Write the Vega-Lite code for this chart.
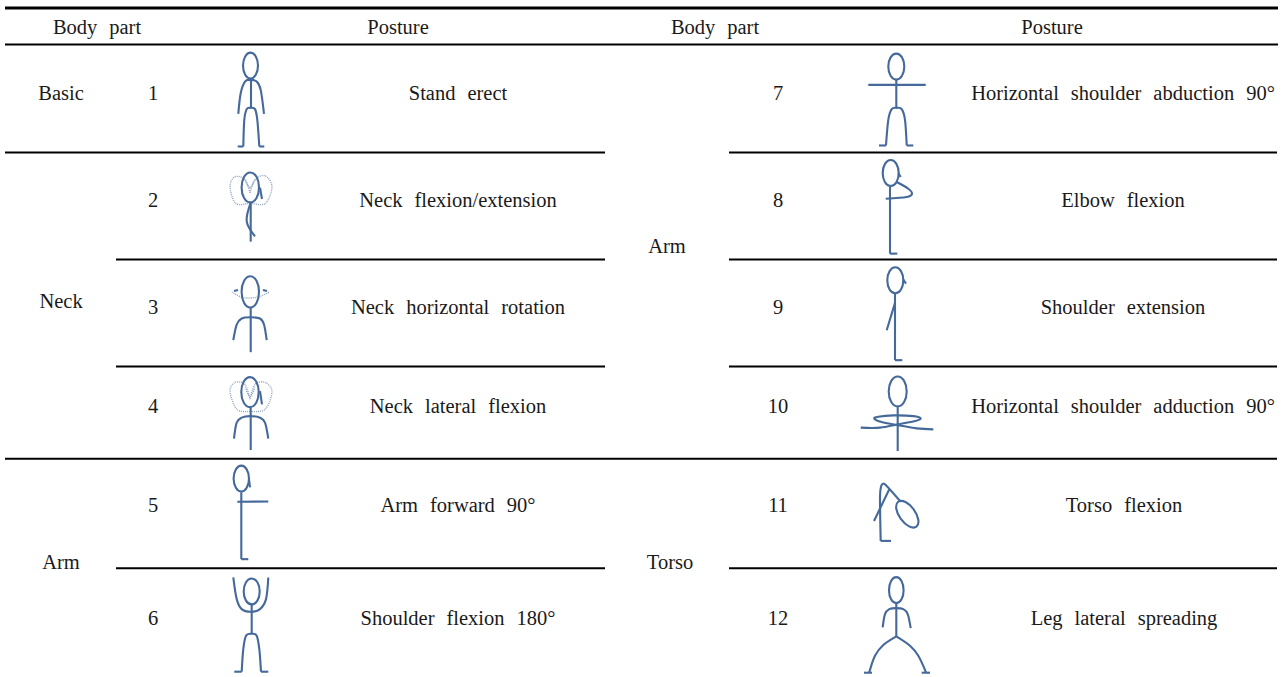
{"$schema":"https://vega.github.io/schema/vega-lite/v6.json","width":1287,"height":677,"autosize":{"type":"fit","contains":"padding"},"padding":0,"background":"white","config":{"view":{"stroke":null}},
"datasets":{"heavy":[{"a":5,"b":1278,"y":8}],
"mid":[{"a":5,"b":1278,"y":44.5}],
"thin":[{"a":5,"b":605,"y":152.8},{"a":729,"b":1277,"y":152.8},{"a":116,"b":605,"y":260},{"a":729,"b":1277,"y":260},{"a":116,"b":605,"y":367},{"a":729,"b":1277,"y":367},{"a":5,"b":1277,"y":459.5},{"a":116,"b":605,"y":569},{"a":729,"b":1277,"y":569}],
"labels":[{"x":97,"y":28,"t":"Body\u00a0\u00a0\u200apart"},{"x":398,"y":28,"t":"Posture"},{"x":715,"y":28,"t":"Body\u00a0\u00a0\u200apart"},{"x":1052,"y":28,"t":"Posture"},{"x":61,"y":94,"t":"Basic"},{"x":61,"y":302,"t":"Neck"},{"x":61,"y":564,"t":"Arm"},{"x":667,"y":247,"t":"Arm"},{"x":670,"y":564,"t":"Torso"},{"x":153,"y":94,"t":"1"},{"x":153,"y":201,"t":"2"},{"x":153,"y":308,"t":"3"},{"x":153,"y":408,"t":"4"},{"x":153,"y":507,"t":"5"},{"x":153,"y":620,"t":"6"},{"x":778,"y":94,"t":"7"},{"x":778,"y":201,"t":"8"},{"x":778,"y":308,"t":"9"},{"x":778,"y":408,"t":"10"},{"x":778,"y":507,"t":"11"},{"x":778,"y":620,"t":"12"},{"x":458,"y":94,"t":"Stand\u00a0\u00a0\u200aerect"},{"x":458,"y":201,"t":"Neck\u00a0\u00a0\u200aflexion/extension"},{"x":458,"y":308,"t":"Neck\u00a0\u00a0\u200ahorizontal\u00a0\u00a0\u200arotation"},{"x":458,"y":408,"t":"Neck\u00a0\u00a0\u200alateral\u00a0\u00a0\u200aflexion"},{"x":458,"y":507,"t":"Arm\u00a0\u00a0\u200aforward\u00a0\u00a0\u200a90°"},{"x":458,"y":620,"t":"Shoulder\u00a0\u00a0\u200aflexion\u00a0\u00a0\u200a180°"},{"x":1123,"y":94,"t":"Horizontal\u00a0\u00a0\u200ashoulder\u00a0\u00a0\u200aabduction\u00a0\u00a0\u200a90°"},{"x":1123,"y":201,"t":"Elbow\u00a0\u00a0\u200aflexion"},{"x":1123,"y":308,"t":"Shoulder\u00a0\u00a0\u200aextension"},{"x":1123,"y":408,"t":"Horizontal\u00a0\u00a0\u200ashoulder\u00a0\u00a0\u200aadduction\u00a0\u00a0\u200a90°"},{"x":1124,"y":507,"t":"Torso\u00a0\u00a0\u200aflexion"},{"x":1124,"y":620,"t":"Leg\u00a0\u00a0\u200alateral\u00a0\u00a0\u200aspreading"}],
"heads":[
{"p":"h1","o":1,"x":250.5,"y":52.7},{"p":"h1","o":2,"x":255.8,"y":56.5},{"p":"h1","o":3,"x":258,"y":65.7},{"p":"h1","o":4,"x":255.8,"y":74.9},{"p":"h1","o":5,"x":250.5,"y":78.7},{"p":"h1","o":6,"x":245.2,"y":74.9},{"p":"h1","o":7,"x":243,"y":65.7},{"p":"h1","o":8,"x":245.2,"y":56.5},
{"p":"h2","o":1,"x":250.3,"y":172.7},{"p":"h2","o":2,"x":256.5,"y":177.1},{"p":"h2","o":3,"x":259,"y":187.7},{"p":"h2","o":4,"x":256.5,"y":198.3},{"p":"h2","o":5,"x":250.3,"y":202.7},{"p":"h2","o":6,"x":244.1,"y":198.3},{"p":"h2","o":7,"x":241.6,"y":187.7},{"p":"h2","o":8,"x":244.1,"y":177.1},
{"p":"h3","o":1,"x":250.3,"y":276.6},{"p":"h3","o":2,"x":256.5,"y":281.2},{"p":"h3","o":3,"x":259,"y":292.3},{"p":"h3","o":4,"x":256.5,"y":303.4},{"p":"h3","o":5,"x":250.3,"y":308},{"p":"h3","o":6,"x":244.1,"y":303.4},{"p":"h3","o":7,"x":241.6,"y":292.3},{"p":"h3","o":8,"x":244.1,"y":281.2},
{"p":"h4","o":1,"x":250,"y":377.7},{"p":"h4","o":2,"x":256.2,"y":382.1},{"p":"h4","o":3,"x":258.7,"y":392.7},{"p":"h4","o":4,"x":256.2,"y":403.3},{"p":"h4","o":5,"x":250,"y":407.7},{"p":"h4","o":6,"x":243.8,"y":403.3},{"p":"h4","o":7,"x":241.3,"y":392.7},{"p":"h4","o":8,"x":243.8,"y":382.1},
{"p":"h5","o":1,"x":241.3,"y":466.3},{"p":"h5","o":2,"x":246.7,"y":470.1},{"p":"h5","o":3,"x":249,"y":479.3},{"p":"h5","o":4,"x":246.7,"y":488.5},{"p":"h5","o":5,"x":241.3,"y":492.3},{"p":"h5","o":6,"x":235.9,"y":488.5},{"p":"h5","o":7,"x":233.6,"y":479.3},{"p":"h5","o":8,"x":235.9,"y":470.1},
{"p":"h6","o":1,"x":251.7,"y":579.3},{"p":"h6","o":2,"x":257.4,"y":583.1},{"p":"h6","o":3,"x":259.7,"y":592.3},{"p":"h6","o":4,"x":257.4,"y":601.5},{"p":"h6","o":5,"x":251.7,"y":605.3},{"p":"h6","o":6,"x":246,"y":601.5},{"p":"h6","o":7,"x":243.7,"y":592.3},{"p":"h6","o":8,"x":246,"y":583.1},
{"p":"h7","o":1,"x":896.3,"y":53.7},{"p":"h7","o":2,"x":902,"y":57.5},{"p":"h7","o":3,"x":904.3,"y":66.7},{"p":"h7","o":4,"x":902,"y":75.9},{"p":"h7","o":5,"x":896.3,"y":79.7},{"p":"h7","o":6,"x":890.6,"y":75.9},{"p":"h7","o":7,"x":888.3,"y":66.7},{"p":"h7","o":8,"x":890.6,"y":57.5},
{"p":"h8","o":1,"x":890.7,"y":160.3},{"p":"h8","o":2,"x":896.4,"y":164.1},{"p":"h8","o":3,"x":898.7,"y":173.3},{"p":"h8","o":4,"x":896.4,"y":182.5},{"p":"h8","o":5,"x":890.7,"y":186.3},{"p":"h8","o":6,"x":885,"y":182.5},{"p":"h8","o":7,"x":882.7,"y":173.3},{"p":"h8","o":8,"x":885,"y":164.1},
{"p":"h9","o":1,"x":895.3,"y":267.7},{"p":"h9","o":2,"x":901,"y":271.5},{"p":"h9","o":3,"x":903.3,"y":280.7},{"p":"h9","o":4,"x":901,"y":289.9},{"p":"h9","o":5,"x":895.3,"y":293.7},{"p":"h9","o":6,"x":889.6,"y":289.9},{"p":"h9","o":7,"x":887.3,"y":280.7},{"p":"h9","o":8,"x":889.6,"y":271.5},
{"p":"h10","o":1,"x":897.7,"y":377},{"p":"h10","o":2,"x":904.1,"y":381.4},{"p":"h10","o":3,"x":906.7,"y":392},{"p":"h10","o":4,"x":904.1,"y":402.6},{"p":"h10","o":5,"x":897.7,"y":407},{"p":"h10","o":6,"x":891.3,"y":402.6},{"p":"h10","o":7,"x":888.7,"y":392},{"p":"h10","o":8,"x":891.3,"y":381.4},
{"p":"h11","o":1,"x":916.4,"y":527.5},{"p":"h11","o":2,"x":918.3,"y":520.5},{"p":"h11","o":3,"x":913.8,"y":510.3},{"p":"h11","o":4,"x":905.5,"y":502.8},{"p":"h11","o":5,"x":898.2,"y":502.5},{"p":"h11","o":6,"x":896.3,"y":509.5},{"p":"h11","o":7,"x":900.8,"y":519.7},{"p":"h11","o":8,"x":909.1,"y":527.2},
{"p":"h12","o":1,"x":896.3,"y":578},{"p":"h12","o":2,"x":901.5,"y":581.8},{"p":"h12","o":3,"x":903.6,"y":591},{"p":"h12","o":4,"x":901.5,"y":600.2},{"p":"h12","o":5,"x":896.3,"y":604},{"p":"h12","o":6,"x":891.1,"y":600.2},{"p":"h12","o":7,"x":889,"y":591},{"p":"h12","o":8,"x":891.1,"y":581.8}
],
"limbs":[
{"p":"a1","o":1,"x":251,"y":79},{"p":"a1","o":2,"x":251,"y":108},
{"p":"a2","o":1,"x":238.3,"y":114},{"p":"a2","o":2,"x":240.7,"y":93.3},{"p":"a2","o":3,"x":245,"y":81.7},{"p":"a2","o":4,"x":250.3,"y":80},{"p":"a2","o":5,"x":256.7,"y":81.7},{"p":"a2","o":6,"x":260.7,"y":90},{"p":"a2","o":7,"x":264,"y":114},
{"p":"a3","o":1,"x":243.3,"y":146.7},{"p":"a3","o":2,"x":244.3,"y":120},{"p":"a3","o":3,"x":246.7,"y":109.3},{"p":"a3","o":4,"x":250.3,"y":108},{"p":"a3","o":5,"x":255,"y":109.3},{"p":"a3","o":6,"x":257.3,"y":120},{"p":"a3","o":7,"x":259.3,"y":146.7},
{"p":"a4","o":1,"x":237.7,"y":146.7},{"p":"a4","o":2,"x":243.3,"y":146.7},
{"p":"a5","o":1,"x":259.3,"y":146.7},{"p":"a5","o":2,"x":264.3,"y":146.7},
{"p":"b1","o":1,"x":250.7,"y":203},{"p":"b1","o":2,"x":250.7,"y":242},
{"p":"b2","o":1,"x":250.7,"y":203},{"p":"b2","o":2,"x":246.7,"y":221.7},{"p":"b2","o":3,"x":255,"y":236.7},
{"p":"b3","o":1,"x":260,"y":188},{"p":"b3","o":2,"x":262,"y":199.3},
{"p":"c1","o":1,"x":250.7,"y":308},{"p":"c1","o":2,"x":250.7,"y":352.7},
{"p":"c2","o":1,"x":233.3,"y":340.7},{"p":"c2","o":2,"x":236.7,"y":325},{"p":"c2","o":3,"x":241.7,"y":319},{"p":"c2","o":4,"x":250,"y":317.7},{"p":"c2","o":5,"x":260,"y":319},{"p":"c2","o":6,"x":264,"y":325},{"p":"c2","o":7,"x":266.7,"y":340.7},
{"p":"c3","o":1,"x":234,"y":291.5},{"p":"c3","o":2,"x":238,"y":290.5},
{"p":"c4","o":1,"x":263,"y":290.5},{"p":"c4","o":2,"x":267,"y":291.5},
{"p":"d1","o":1,"x":250.7,"y":408},{"p":"d1","o":2,"x":250.7,"y":450.7},
{"p":"d2","o":1,"x":234,"y":439.3},{"p":"d2","o":2,"x":236.7,"y":423.3},{"p":"d2","o":3,"x":241.7,"y":418.3},{"p":"d2","o":4,"x":250,"y":416.7},{"p":"d2","o":5,"x":260,"y":418.3},{"p":"d2","o":6,"x":265,"y":423.3},{"p":"d2","o":7,"x":268.3,"y":439.3},
{"p":"d3","o":1,"x":260,"y":391.7},{"p":"d3","o":2,"x":262,"y":405},
{"p":"e1","o":1,"x":241.3,"y":493},{"p":"e1","o":2,"x":241.3,"y":560},
{"p":"e2","o":1,"x":241.3,"y":560},{"p":"e2","o":2,"x":248.3,"y":560},
{"p":"e3","o":1,"x":237.3,"y":502.5},{"p":"e3","o":2,"x":268.3,"y":502.3},
{"p":"e4","o":1,"x":249,"y":480},{"p":"e4","o":2,"x":250,"y":488},
{"p":"f1","o":1,"x":251.7,"y":605},{"p":"f1","o":2,"x":251.7,"y":635},
{"p":"f2","o":1,"x":233.3,"y":578.3},{"p":"f2","o":2,"x":236.7,"y":600},{"p":"f2","o":3,"x":241.7,"y":610},{"p":"f2","o":4,"x":250.7,"y":612.7},{"p":"f2","o":5,"x":260,"y":610},{"p":"f2","o":6,"x":266,"y":600},{"p":"f2","o":7,"x":268.3,"y":578.3},
{"p":"f3","o":1,"x":241.7,"y":672.7},{"p":"f3","o":2,"x":243.3,"y":650},{"p":"f3","o":3,"x":246,"y":636.7},{"p":"f3","o":4,"x":251.7,"y":634.7},{"p":"f3","o":5,"x":256.7,"y":636.7},{"p":"f3","o":6,"x":259.3,"y":650},{"p":"f3","o":7,"x":261,"y":672.7},
{"p":"f4","o":1,"x":234.3,"y":672.7},{"p":"f4","o":2,"x":241.7,"y":672.7},
{"p":"f5","o":1,"x":261,"y":672.7},{"p":"f5","o":2,"x":268.3,"y":672.7},
{"p":"g1","o":1,"x":896.3,"y":80},{"p":"g1","o":2,"x":896.3,"y":108},
{"p":"g2","o":1,"x":868.3,"y":85},{"p":"g2","o":2,"x":925.7,"y":85},
{"p":"g3","o":1,"x":886,"y":145.7},{"p":"g3","o":2,"x":888.3,"y":120},{"p":"g3","o":3,"x":891.7,"y":109.3},{"p":"g3","o":4,"x":896.7,"y":108},{"p":"g3","o":5,"x":901.7,"y":109.3},{"p":"g3","o":6,"x":905,"y":120},{"p":"g3","o":7,"x":906.7,"y":145.7},
{"p":"g4","o":1,"x":879,"y":145.7},{"p":"g4","o":2,"x":886,"y":145.7},
{"p":"g5","o":1,"x":906.7,"y":145.7},{"p":"g5","o":2,"x":913.3,"y":145.7},
{"p":"i1","o":1,"x":890,"y":186.7},{"p":"i1","o":2,"x":890,"y":254},
{"p":"i2","o":1,"x":890,"y":254},{"p":"i2","o":2,"x":897.3,"y":254},
{"p":"i3","o":1,"x":896.7,"y":182.3},{"p":"i3","o":2,"x":908.3,"y":189},{"p":"i3","o":3,"x":912,"y":194},{"p":"i3","o":4,"x":906.7,"y":197.3},{"p":"i3","o":5,"x":885.7,"y":199},
{"p":"i4","o":1,"x":898.3,"y":173.3},{"p":"i4","o":2,"x":900.7,"y":177.3},
{"p":"j1","o":1,"x":895,"y":293.3},{"p":"j1","o":2,"x":895,"y":360.7},
{"p":"j2","o":1,"x":895,"y":360.7},{"p":"j2","o":2,"x":902.3,"y":360.7},
{"p":"j3","o":1,"x":895,"y":303.3},{"p":"j3","o":2,"x":886.7,"y":330.7},
{"p":"j4","o":1,"x":903.3,"y":280},{"p":"j4","o":2,"x":906,"y":284},
{"p":"k1","o":1,"x":897.7,"y":407.7},{"p":"k1","o":2,"x":897.7,"y":451.7},
{"p":"k2","o":1,"x":860.7,"y":428.3},{"p":"k2","o":2,"x":880,"y":428.3},{"p":"k2","o":3,"x":897.7,"y":425},{"p":"k2","o":4,"x":915,"y":421.7},{"p":"k2","o":5,"x":920.7,"y":419},{"p":"k2","o":6,"x":913.3,"y":416.7},{"p":"k2","o":7,"x":893.3,"y":416},{"p":"k2","o":8,"x":878.3,"y":417.3},{"p":"k2","o":9,"x":874.3,"y":419.3},{"p":"k2","o":10,"x":881.7,"y":422.7},{"p":"k2","o":11,"x":897.7,"y":425.7},{"p":"k2","o":12,"x":916.7,"y":429},{"p":"k2","o":13,"x":933.3,"y":430},
{"p":"l1","o":1,"x":891,"y":541.7},{"p":"l1","o":2,"x":880.7,"y":541.7},
{"p":"l2","o":1,"x":880.7,"y":541.7},{"p":"l2","o":2,"x":880,"y":500},{"p":"l2","o":3,"x":881,"y":487.5},{"p":"l2","o":4,"x":883,"y":484.5},{"p":"l2","o":5,"x":886,"y":486},{"p":"l2","o":6,"x":900,"y":501.7},
{"p":"l3","o":1,"x":889.3,"y":490},{"p":"l3","o":2,"x":874,"y":521.7},
{"p":"m1","o":1,"x":896.3,"y":604},{"p":"m1","o":2,"x":896.3,"y":637.3},
{"p":"m2","o":1,"x":882.7,"y":628.3},{"p":"m2","o":2,"x":885,"y":615},{"p":"m2","o":3,"x":889.3,"y":610},{"p":"m2","o":4,"x":896.3,"y":609},{"p":"m2","o":5,"x":903.3,"y":610},{"p":"m2","o":6,"x":907.7,"y":615},{"p":"m2","o":7,"x":910.7,"y":629},
{"p":"m3","o":1,"x":869.3,"y":673.3},{"p":"m3","o":2,"x":875,"y":656.7},{"p":"m3","o":3,"x":883.3,"y":646},{"p":"m3","o":4,"x":896.3,"y":637.3},
{"p":"m4","o":1,"x":896.3,"y":637.3},{"p":"m4","o":2,"x":910,"y":646.7},{"p":"m4","o":3,"x":918.3,"y":656.7},{"p":"m4","o":4,"x":926,"y":673.3},
{"p":"m5","o":1,"x":864,"y":673.7},{"p":"m5","o":2,"x":872,"y":673.7},
{"p":"m6","o":1,"x":921.7,"y":673.7},{"p":"m6","o":2,"x":930,"y":673.7}
],
"dots":[
{"p":"q1","o":1,"x":250,"y":203},{"p":"q1","o":2,"x":236,"y":204},{"p":"q1","o":3,"x":230,"y":187},{"p":"q1","o":4,"x":235,"y":177},{"p":"q1","o":5,"x":245,"y":180},{"p":"q1","o":6,"x":250,"y":193},
{"p":"q2","o":1,"x":250,"y":203},{"p":"q2","o":2,"x":265,"y":204},{"p":"q2","o":3,"x":272,"y":187},{"p":"q2","o":4,"x":265,"y":176},{"p":"q2","o":5,"x":255,"y":180},{"p":"q2","o":6,"x":250,"y":193},
{"p":"q3","o":1,"x":245,"y":180},{"p":"q3","o":2,"x":250,"y":188},{"p":"q3","o":3,"x":255,"y":180},
{"p":"r1","o":1,"x":232,"y":292.5},{"p":"r1","o":2,"x":243,"y":298},{"p":"r1","o":3,"x":257,"y":297.7},{"p":"r1","o":4,"x":269,"y":292.7},
{"p":"s1","o":1,"x":250,"y":412},{"p":"s1","o":2,"x":237,"y":410},{"p":"s1","o":3,"x":230,"y":392},{"p":"s1","o":4,"x":235,"y":383},{"p":"s1","o":5,"x":245,"y":385},{"p":"s1","o":6,"x":250,"y":400},
{"p":"s2","o":1,"x":250,"y":412},{"p":"s2","o":2,"x":265,"y":410},{"p":"s2","o":3,"x":272,"y":392},{"p":"s2","o":4,"x":265,"y":383},{"p":"s2","o":5,"x":255,"y":385},{"p":"s2","o":6,"x":250,"y":400},
{"p":"s3","o":1,"x":245,"y":388},{"p":"s3","o":2,"x":250,"y":397},{"p":"s3","o":3,"x":255,"y":388}
]},
"encoding":{"x":{"field":"x","type":"quantitative","scale":{"domain":[0,1287],"nice":false,"zero":false},"axis":null},"y":{"field":"y","type":"quantitative","scale":{"domain":[677,0],"nice":false,"zero":false},"axis":null}},
"layer":[
{"data":{"name":"heavy"},"mark":{"type":"rule","color":"#000","strokeWidth":3},"encoding":{"x":{"field":"a","type":"quantitative"},"x2":{"field":"b"},"y":{"field":"y","type":"quantitative"}}},
{"data":{"name":"mid"},"mark":{"type":"rule","color":"#000","strokeWidth":2},"encoding":{"x":{"field":"a","type":"quantitative"},"x2":{"field":"b"},"y":{"field":"y","type":"quantitative"}}},
{"data":{"name":"thin"},"mark":{"type":"rule","color":"#000","strokeWidth":2},"encoding":{"x":{"field":"a","type":"quantitative"},"x2":{"field":"b"},"y":{"field":"y","type":"quantitative"}}},
{"data":{"name":"dots"},"mark":{"type":"line","interpolate":"cardinal","color":"#8fa3bd","strokeWidth":1.4,"strokeDash":[1,1]},"encoding":{"detail":{"field":"p"},"order":{"field":"o","type":"quantitative"}}},
{"data":{"name":"limbs"},"mark":{"type":"line","interpolate":"cardinal","color":"#44699a","strokeWidth":2.1},"encoding":{"detail":{"field":"p"},"order":{"field":"o","type":"quantitative"}}},
{"data":{"name":"heads"},"mark":{"type":"line","interpolate":"cardinal-closed","color":"#44699a","strokeWidth":2.1},"encoding":{"detail":{"field":"p"},"order":{"field":"o","type":"quantitative"}}},
{"data":{"name":"labels"},"mark":{"type":"text","font":"Liberation Serif","fontSize":20.5,"color":"#1a1a1a","align":"center","baseline":"middle"},"encoding":{"text":{"field":"t"}}}
]}
